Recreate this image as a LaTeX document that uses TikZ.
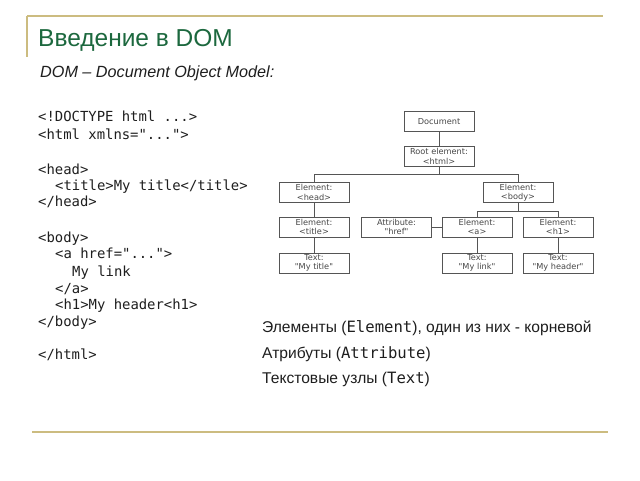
\documentclass[tikz,border=0pt]{standalone}
\usepackage{fontspec}
\setmainfont{Liberation Sans}
\newfontfamily\monof{DejaVu Sans Mono}
\newfontfamily\boxf{DejaVu Sans}
\definecolor{titlegreen}{RGB}{28,104,62}
\definecolor{rulecol}{RGB}{204,188,128}
\definecolor{boxline}{RGB}{85,85,85}
\definecolor{boxtext}{RGB}{70,70,70}
\definecolor{txt}{RGB}{30,30,30}
\tikzset{
  codeline/.style={anchor=base west,inner sep=0pt,text=txt,font=\monof\fontsize{13.9}{16}\selectfont},
  treebox/.style={draw=boxline,line width=0.9pt,minimum width=70pt,minimum height=20pt,inner sep=0pt,align=center,text=boxtext,font=\boxf\fontsize{8.2}{9.4}\selectfont},
  treeline/.style={draw=boxline,line width=0.9pt},
  infoline/.style={anchor=base west,inner sep=0pt,text=txt,font=\fontsize{15.6}{18}\selectfont},
}
\begin{document}
\begin{tikzpicture}[x=1pt,y=-1pt]
\useasboundingbox (0,0) rectangle (640,480);
% decorative rules
\draw[rulecol,line width=1.5pt] (27,16) -- (603,16);
\draw[rulecol,line width=1.5pt] (27,16) -- (27,57);
\draw[rulecol,line width=1.5pt] (32,432) -- (608,432);
% title
\node[anchor=base west,inner sep=0pt,text=titlegreen,font=\fontsize{24.5}{30}\selectfont] (title) at (38,46) {Введение в DOM};
\node[anchor=base west,inner sep=0pt,text=txt,font=\itshape\fontsize{16.2}{19}\selectfont] (sub) at (40,77) {DOM – Document Object Model:};
% code
\node[codeline] (c1) at (38,121) {<!DOCTYPE html ...>};
\node[codeline] (c2) at (38,139) {<html xmlns="...">};
\node[codeline] (c3) at (38,174) {<head>};
\node[codeline] (c4) at (55,190) {<title>My title</title>};
\node[codeline] (c5) at (38,206) {</head>};
\node[codeline] (c6) at (38,242) {<body>};
\node[codeline] (c7) at (55,258) {<a href="...">};
\node[codeline] (c8) at (72,276) {My link};
\node[codeline] (c9) at (55,293) {</a>};
\node[codeline] (c10) at (55,309) {<h1>My header<h1>};
\node[codeline] (c11) at (38,326) {</body>};
\node[codeline] (c12) at (38,359) {</html>};
% tree
\node[treebox] (doc) at (439,121.5) {Document};
\node[treebox] (root) at (439,156.5) {Root element:\\<html>};
\node[treebox] (head) at (314,192.5) {Element:\\<head>};
\node[treebox] (body) at (518,192.5) {Element:\\<body>};
\node[treebox] (ttl) at (314,227) {Element:\\<title>};
\node[treebox] (attr) at (396.5,227) {Attribute:\\"href"};
\node[treebox] (a) at (477,227) {Element:\\<a>};
\node[treebox] (h1) at (558,227) {Element:\\<h1>};
\node[treebox] (t1) at (314,263) {Text:\\"My title"};
\node[treebox] (t2) at (477,263) {Text:\\"My link"};
\node[treebox] (t3) at (558,263) {Text:\\"My header"};
\draw[treeline] (doc) -- (root);
\draw[treeline] (root.south) -- ++(0,7.5) -| (head.north);
\draw[treeline] (root.south) -- ++(0,7.5) -| (body.north);
\draw[treeline] (head) -- (ttl);
\draw[treeline] (ttl) -- (t1);
\draw[treeline] (body.south) -- ++(0,8.5) -| (a.north);
\draw[treeline] (body.south) -- ++(0,8.5) -| (h1.north);
\draw[treeline] (attr) -- (a);
\draw[treeline] (a) -- (t2);
\draw[treeline] (h1) -- (t3);
% info text
\node[infoline] (i1) at (262,332) {Элементы ({\monof Element}), один из них - корневой};
\node[infoline] (i2) at (262,358.5) {Атрибуты ({\monof Attribute})};
\node[infoline] (i3) at (262,383.5) {Текстовые узлы ({\monof Text})};
\end{tikzpicture}
\end{document}
